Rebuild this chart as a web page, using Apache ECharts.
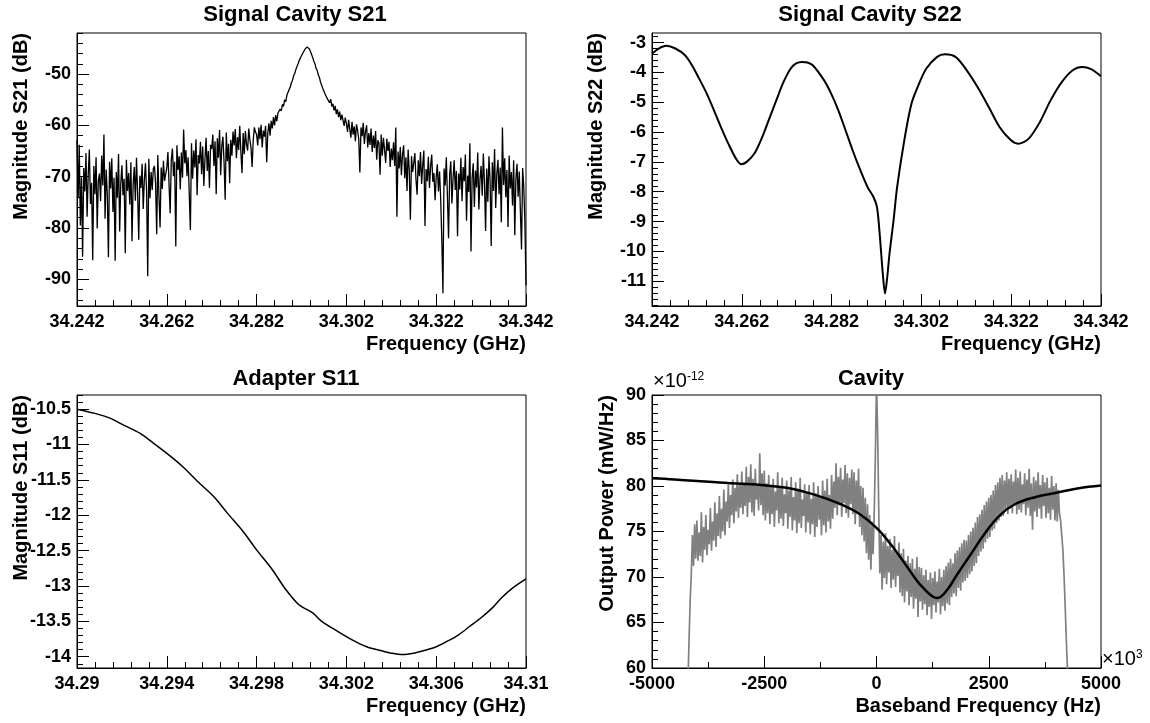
<!DOCTYPE html>
<html><head><meta charset="utf-8">
<script src="https://cdn.jsdelivr.net/npm/echarts@6/dist/echarts.min.js"></script>
<style>html,body{margin:0;padding:0;background:#fff}#c{width:1150px;height:723px}</style>
</head><body><div id="c"></div>
<script>
// ---------- Panel 1: Signal Cavity S21 (uniform frequency grid) ----------
const s21Start = 34.242, s21Step = 0.00025;
const s21Mag = [
-62.8,-74.2,-63.8,-79.5,-70.1,-85.6,-68.3,-72.9,-65.4,-77.8,-69.6,-64.7,-75.3,-71.2,-86.3,-67.9,-73.4,-66.2,-80.1,-70.8,
-69.4,-74.8,-65.9,-71.7,-61.8,-78.2,-68.6,-73.5,-85.7,-67.1,-72.3,-66.4,-76.9,-70.2,-86.4,-69.1,-74.1,-65.6,-80.7,-71.3,
-67.8,-73.6,-70.4,-84.9,-66.7,-72.8,-69.3,-75.4,-67.2,-82.6,-71.5,-68.1,-74.7,-66.3,-73.1,-82.3,-69.8,-72.2,-67.5,-76.3,
-70.6,-67.4,-72.8,-89.4,-66.5,-74.2,-69.1,-72.6,-68.4,-67.9,-71.3,-81.2,-65.8,-73.7,-79.9,-68.2,-72.4,-66.9,-70.8,-69.5,
-68.3,-65.2,-71.6,-77.1,-66.8,-64.5,-69.9,-67.1,-83.6,-63.9,-68.7,-66.0,-72.5,-65.3,-70.2,-60.8,-67.4,-64.8,-69.9,-66.2,
-66.1,-80.4,-63.5,-70.4,-64.9,-68.2,-62.7,-73.6,-65.8,-67.4,-63.2,-69.5,-64.1,-71.8,-66.6,-62.4,-68.9,-65.0,-72.2,-63.8,
-64.6,-61.8,-67.9,-63.1,-73.4,-62.5,-66.3,-60.9,-69.7,-64.0,-62.2,-67.1,-74.5,-61.4,-67.0,-63.6,-71.3,-62.8,-65.9,-61.2,
-63.9,-60.7,-66.4,-62.3,-64.8,-60.1,-65.2,-69.3,-61.5,-65.6,-61.1,-63.7,-64.9,-60.6,-62.8,-64.3,-68.1,-62.9,-60.4,-61.3,
-61.8,-63.9,-60.4,-62.7,-59.9,-64.3,-61.0,-62.2,-60.1,-67.2,-61.4,-59.6,-62.0,-59.1,-60.6,-58.4,-60.0,-58.0,-59.2,-57.6,
-57.9,-56.8,-57.2,-55.9,-56.3,-55.0,-55.4,-54.1,-53.8,-53.0,-52.5,-51.7,-51.2,-50.3,-49.9,-49.1,-48.5,-48.0,-47.3,-46.9,
-46.4,-46.0,-45.6,-45.2,-44.9,-44.7,-44.8,-45.1,-45.6,-46.2,-46.8,-47.5,-48.0,-48.9,-49.3,-50.2,-50.7,-51.6,-51.9,-52.8,
-53.0,-53.9,-53.6,-54.8,-54.5,-55.6,-54.9,-56.3,-55.8,-57.1,-56.2,-57.8,-56.9,-58.4,-57.3,-59.0,-57.9,-58.2,-60.1,-58.5,
-59.6,-61.3,-58.9,-60.7,-62.4,-59.3,-61.8,-60.2,-63.1,-59.8,-61.0,-62.7,-69.2,-60.4,-62.1,-59.5,-63.6,-61.2,-60.0,-64.3,
-61.5,-63.8,-60.6,-65.2,-62.0,-64.4,-61.1,-66.7,-62.9,-63.5,-69.6,-61.8,-65.9,-62.4,-64.8,-67.3,-62.6,-65.0,-63.2,-68.1,
-64.5,-66.8,-63.3,-67.9,-60.4,-77.8,-65.1,-68.4,-64.2,-69.7,-65.6,-63.9,-70.3,-66.2,-72.8,-64.7,-68.9,-78.4,-66.0,-69.1,
-67.3,-65.4,-70.6,-73.5,-66.8,-69.9,-65.2,-71.4,-67.7,-64.9,-79.6,-68.5,-70.9,-66.1,-72.2,-68.0,-65.7,-71.0,-69.3,-74.6,
-70.1,-67.6,-72.9,-69.0,-74.3,-82.3,-92.7,-68.4,-71.7,-66.2,-73.8,-82.0,-69.6,-67.0,-75.2,-70.4,-66.8,-72.6,-68.9,-81.6,
-69.4,-72.5,-66.3,-74.8,-68.1,-70.9,-65.7,-78.6,-69.8,-73.0,-63.5,-84.6,-70.2,-67.4,-75.9,-68.8,-72.1,-65.3,-76.4,-70.5,
-67.9,-73.7,-65.5,-71.2,-80.6,-68.4,-74.9,-66.0,-70.7,-83.5,-67.2,-72.8,-64.6,-76.1,-69.5,-66.7,-73.4,-68.2,-78.9,-60.4,
-71.6,-66.4,-74.0,-68.7,-79.8,-65.9,-72.3,-69.1,-75.6,-66.8,-81.4,-70.3,-67.5,-73.9,-69.0,-76.7,-84.2,-68.3,-72.0,-78.8,-91.2
];

// ---------- Panel 2: Signal Cavity S22 ----------
const s22Freq = [34.2420,34.2435,34.2452,34.2472,34.2493,34.2509,34.2525,34.2542,34.2558,34.2574,34.2590,34.2607,34.2619,34.2631,34.2648,34.2664,34.2680,34.2697,34.2713,34.2729,34.2741,34.2754,34.2766,34.2778,34.2803,34.2819,34.2835,34.2851,34.2868,34.2884,34.2900,34.2913,34.2921,34.2927,34.2934,34.2939,34.2944,34.2949,34.2958,34.2966,34.2982,34.2998,34.3015,34.3031,34.3055,34.3072,34.3096,34.3121,34.3145,34.3170,34.3194,34.3219,34.3235,34.3259,34.3284,34.3308,34.3333,34.3357,34.3378,34.3398,34.3420];
const s22Mag  = [-3.37,-3.20,-3.11,-3.20,-3.42,-3.76,-4.21,-4.71,-5.27,-5.85,-6.39,-6.89,-7.08,-7.00,-6.72,-6.22,-5.60,-4.93,-4.32,-3.87,-3.70,-3.65,-3.67,-3.76,-4.26,-4.71,-5.27,-5.94,-6.66,-7.28,-7.84,-8.17,-8.51,-9.40,-10.74,-11.41,-10.85,-10.07,-8.96,-7.84,-6.27,-5.04,-4.37,-3.87,-3.48,-3.39,-3.48,-3.93,-4.49,-5.16,-5.83,-6.27,-6.39,-6.22,-5.66,-4.93,-4.32,-3.93,-3.82,-3.89,-4.13];

// ---------- Panel 3: Adapter S11 ----------
const s11Freq = [34.2900,34.2908,34.2915,34.2921,34.2928,34.2934,34.2941,34.2947,34.2954,34.2961,34.2967,34.2974,34.2980,34.2987,34.2993,34.2999,34.3005,34.3009,34.3016,34.3023,34.3029,34.3036,34.3040,34.3045,34.3050,34.3055,34.3060,34.3065,34.3070,34.3075,34.3080,34.3085,34.3089,34.3094,34.3100];
const s11Mag  = [-10.50,-10.56,-10.63,-10.73,-10.84,-10.98,-11.15,-11.31,-11.53,-11.74,-11.97,-12.23,-12.49,-12.77,-13.05,-13.27,-13.38,-13.50,-13.64,-13.77,-13.86,-13.92,-13.95,-13.97,-13.95,-13.91,-13.86,-13.78,-13.69,-13.57,-13.45,-13.31,-13.17,-13.03,-12.90];

// ---------- Panel 4: Cavity output power (x10^-12 mW/Hz), uniform baseband grid ----------
const powStart = -4225, powStep = 25;
const powData = [
55.0,58.2,63.1,67.4,70.3,74.6,71.2,75.8,72.0,
76.2,71.8,74.9,72.3,77.1,71.6,75.5,73.0,76.8,72.4,75.2,73.6,77.6,72.9,76.1,74.0,78.2,73.3,77.0,74.5,
78.9,74.2,77.5,75.0,79.6,74.6,78.3,76.1,80.2,75.4,79.0,76.8,80.7,75.9,79.8,77.2,81.3,76.5,80.1,77.6,
81.6,76.9,80.4,77.8,82.1,76.6,81.0,78.2,82.4,77.1,80.8,76.7,81.9,78.5,80.2,77.3,83.6,77.9,81.4,76.8,
81.7,76.2,80.3,77.0,81.2,75.8,79.9,76.9,80.8,75.5,79.4,77.3,81.5,75.9,80.0,76.4,80.9,75.6,79.1,77.0,
80.6,75.3,79.5,76.6,81.0,75.1,78.8,76.2,80.4,74.8,79.7,75.9,80.9,75.4,78.5,76.7,80.2,74.9,79.3,76.0,
80.1,74.7,78.6,75.8,80.4,74.4,79.2,75.5,80.0,76.3,78.9,74.6,80.6,75.7,79.5,74.9,80.8,76.1,79.0,75.3,
81.2,76.4,80.5,77.6,82.5,76.8,81.0,77.9,82.0,76.6,80.7,78.1,82.3,77.0,81.4,76.5,80.9,78.0,81.8,76.9,
81.5,75.8,80.6,76.9,81.9,75.5,80.0,74.6,79.8,73.9,78.7,72.6,78.0,71.9,76.8,70.8,76.1,72.5,77.2,83.4,
91.5,86.0,77.3,70.4,74.6,68.6,73.9,69.9,74.8,69.2,73.4,70.5,74.2,68.8,73.0,69.7,74.5,68.9,72.8,70.1,
73.8,68.3,72.6,67.9,73.1,67.2,71.8,68.4,72.3,66.9,71.5,67.8,72.0,66.5,70.9,67.6,72.2,65.6,71.1,67.3,
71.0,66.4,70.2,67.0,70.8,65.8,69.7,66.7,70.5,65.4,69.9,66.9,70.6,66.1,69.5,67.2,70.9,65.9,70.0,66.8,
70.8,66.3,71.2,67.1,71.6,66.9,72.0,67.8,71.5,68.2,72.6,67.9,72.9,68.8,73.3,68.5,73.7,69.4,74.1,69.6,
74.0,69.9,74.6,70.3,75.0,70.6,75.4,71.2,76.0,71.5,76.6,72.3,76.9,72.8,77.4,73.1,77.9,73.8,78.3,74.2,
78.7,74.4,79.0,75.1,79.5,75.3,80.1,75.9,80.4,76.2,80.9,76.6,81.2,76.7,80.6,77.3,81.5,76.9,80.8,77.5,
81.3,77.0,80.5,77.8,81.8,76.9,80.9,77.4,81.6,77.1,80.2,78.0,81.4,76.8,80.7,77.6,81.9,76.7,80.3,75.2,
81.0,77.2,80.6,76.6,81.5,77.5,80.1,76.4,81.2,77.8,80.4,76.5,80.9,77.0,79.8,76.3,81.1,77.4,80.0,76.2,
80.3,76.1,79.6,77.0,76.2,74.6,73.1,70.4,67.1,63.4,60.3,57.0,54.0
];
const fitFreq = [-5000,-4500,-4000,-3500,-3000,-2500,-2000,-1600,-1200,-800,-400,0,300,600,900,1100,1250,1350,1450,1600,1800,2100,2400,2750,3100,3550,4000,4500,5000];
const fitPow  = [80.85,80.72,80.55,80.38,80.25,80.08,79.80,79.35,78.75,78.00,77.00,75.40,73.70,71.70,69.60,68.50,67.85,67.68,67.90,68.75,70.30,72.50,74.70,76.80,78.05,78.80,79.25,79.75,80.05];

// ---------- Tick labels ----------
const xTicksTop = [34.242,34.262,34.282,34.302,34.322,34.342];
const yTicksS21 = [-90,-80,-70,-60,-50];
const yTicksS22 = [-11,-10,-9,-8,-7,-6,-5,-4,-3];
const xTicksS11 = [34.29,34.294,34.298,34.302,34.306,34.31];
const yTicksS11 = [-14,-13.5,-13,-12.5,-12,-11.5,-11,-10.5];
const xTicksPow = [-5000,-2500,0,2500,5000];
const yTicksPow = [60,65,70,75,80,85,90];

// ---------- helpers ----------
const FONT = "'Liberation Sans', Arial, Helvetica, sans-serif";
function fmt(v){ return String(parseFloat(Number(v).toFixed(5))); }
function seq(a, b, d){ const out=[]; const n=Math.round((b-a)/d); for(let k=0;k<=n;k++) out.push(parseFloat((a+k*d).toFixed(6))); return out; }
function uniform(start, step, vals){ return vals.map((v,k)=>[parseFloat((start+k*step).toFixed(6)), v]); }
function zip(xs, ys){ return xs.map((x,k)=>[x, ys[k]]); }
function grid(left, top){ return {left:left, top:top, width:449, height:273, show:true, borderColor:'#000', borderWidth:1, backgroundColor:'rgba(0,0,0,0)', containLabel:false, outerBoundsMode:'none'}; }
const lbl = {color:'#000', fontFamily:FONT, fontWeight:'bold', fontSize:18};
const nameStyle = {color:'#000', fontFamily:FONT, fontWeight:'bold', fontSize:20};
function xPair(gi, min, max, majors, minors, name){
  return [{
    type:'value', gridIndex:gi, min:min, max:max, position:'bottom',
    axisLine:{show:true, onZero:false, lineStyle:{color:'#000', width:1}},
    axisTick:{show:true, inside:true, length:12, customValues:majors, lineStyle:{color:'#000', width:1}},
    axisLabel:Object.assign({show:true, customValues:majors, formatter:fmt, margin:7, showMinLabel:true, showMaxLabel:true}, lbl),
    splitLine:{show:false},
    name:name, nameLocation:'end', nameGap:0, nameMoveOverlap:false,
    nameTextStyle:Object.assign({align:'right', verticalAlign:'top', padding:[28,0,0,0]}, nameStyle)
  },{
    type:'value', gridIndex:gi, min:min, max:max, position:'bottom',
    axisLine:{show:false, onZero:false},
    axisTick:{show:true, inside:true, length:6, customValues:minors, lineStyle:{color:'#000', width:1}},
    axisLabel:{show:false}, splitLine:{show:false}
  }];
}
function yPair(gi, min, max, majors, minors, name, pad){
  return [{
    type:'value', gridIndex:gi, min:min, max:max, position:'left',
    axisLine:{show:true, onZero:false, lineStyle:{color:'#000', width:1}},
    axisTick:{show:true, inside:true, length:12, customValues:majors, lineStyle:{color:'#000', width:1}},
    axisLabel:Object.assign({show:true, customValues:majors, formatter:fmt, margin:6, showMinLabel:true, showMaxLabel:true}, lbl),
    splitLine:{show:false},
    name:name, nameLocation:'end', nameGap:0, nameRotate:90, nameMoveOverlap:false,
    nameTextStyle:Object.assign({align:'right', verticalAlign:'bottom', padding:[0,0,pad,0]}, nameStyle)
  },{
    type:'value', gridIndex:gi, min:min, max:max, position:'left',
    axisLine:{show:false, onZero:false},
    axisTick:{show:true, inside:true, length:6, customValues:minors, lineStyle:{color:'#000', width:1}},
    axisLabel:{show:false}, splitLine:{show:false}
  }];
}
function titleAt(text, x, y){ return {text:text, left:x, top:y, textAlign:'center', padding:0, textStyle:{fontFamily:FONT, fontWeight:'bold', fontSize:22, color:'#000'}}; }
const supRich = {a:{fontFamily:FONT, fontSize:20, fill:'#000'}, b:{fontFamily:FONT, fontSize:12, fill:'#000', verticalAlign:'top'}};

const option = {
  animation:false,
  backgroundColor:'#fff',
  textStyle:{fontFamily:FONT},
  title:[
    titleAt('Signal Cavity S21', 295, 4),
    titleAt('Signal Cavity S22', 870, 4),
    titleAt('Adapter S11', 296, 368),
    titleAt('Cavity', 871, 368)
  ],
  grid:[grid(77,33), grid(652,33), grid(77,395), grid(652,395)],
  xAxis:[].concat(
    xPair(0, 34.242, 34.342, xTicksTop, seq(34.242,34.342,0.004), 'Frequency (GHz)'),
    xPair(1, 34.242, 34.342, xTicksTop, seq(34.242,34.342,0.004), 'Frequency (GHz)'),
    xPair(2, 34.29, 34.31, xTicksS11, seq(34.29,34.31,0.0008), 'Frequency (GHz)'),
    xPair(3, -5000, 5000, xTicksPow, seq(-5000,5000,1250), 'Baseband Frequency (Hz)')
  ),
  yAxis:[].concat(
    yPair(0, -95.2, -42.0, yTicksS21, seq(-94,-42,2), 'Magnitude S21 (dB)', 46),
    yPair(1, -11.83, -2.68, yTicksS22, seq(-11.8,-2.8,0.2), 'Magnitude S22 (dB)', 46),
    yPair(2, -14.16, -10.30, yTicksS11, seq(-14.1,-10.3,0.1), 'Magnitude S11 (dB)', 46),
    yPair(3, 60, 90, yTicksPow, seq(60,90,1), 'Output Power (mW/Hz)', 35)
  ),
  graphic:[
    {type:'text', left:653, top:371, style:{text:'{a|×10}{b|-12}', rich:supRich}},
    {type:'text', left:1102, top:649, style:{text:'{a|×10}{b|3}', rich:supRich}}
  ],
  series:[
    {name:'S21', type:'line', xAxisIndex:0, yAxisIndex:0, data:uniform(s21Start, s21Step, s21Mag), symbol:'none', showSymbol:false, clip:true, lineStyle:{color:'#000', width:1.3}},
    {name:'S22', type:'line', xAxisIndex:2, yAxisIndex:2, data:zip(s22Freq, s22Mag), symbol:'none', showSymbol:false, smooth:0.3, clip:true, lineStyle:{color:'#000', width:2}},
    {name:'S11', type:'line', xAxisIndex:4, yAxisIndex:4, data:zip(s11Freq, s11Mag), symbol:'none', showSymbol:false, smooth:0.3, clip:true, lineStyle:{color:'#000', width:1.5}},
    {name:'Power', type:'line', xAxisIndex:6, yAxisIndex:6, data:uniform(powStart, powStep, powData), symbol:'none', showSymbol:false, clip:true, lineStyle:{color:'#808080', width:1.7}},
    {name:'Fit', type:'line', xAxisIndex:6, yAxisIndex:6, data:zip(fitFreq, fitPow), symbol:'none', showSymbol:false, smooth:0.4, clip:true, lineStyle:{color:'#000', width:2.5}, z:5}
  ]
};
const chart = echarts.init(document.getElementById('c'), null, {renderer:'canvas'});
chart.setOption(option);
</script>
</body></html>
